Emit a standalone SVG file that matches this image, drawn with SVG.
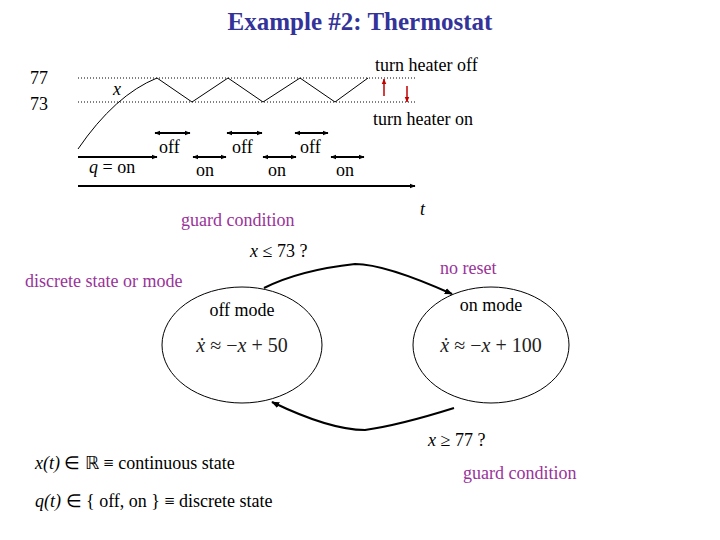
<svg xmlns="http://www.w3.org/2000/svg" width="720" height="540" viewBox="0 0 720 540" font-family="'Liberation Serif','Times New Roman',serif">
<style>
text{font-family:"Liberation Serif","Times New Roman",serif;font-size:18px;fill:#000}
.p{fill:#993399}
.t{fill:#333399;font-weight:bold;font-size:25px}
.i{font-style:italic}
.m{font-size:20px;fill:#222}
.l{stroke:#000;stroke-width:1;fill:none}
.b{stroke:#000;stroke-width:2;fill:none}
.d{stroke:#000;stroke-width:1;stroke-dasharray:1 2;fill:none}
</style>
<defs>
<marker id="a" viewBox="0 0 10 10" refX="9" refY="5" markerWidth="3" markerHeight="3" orient="auto-start-reverse"><path d="M0,1 L10,5 L0,9z" fill="#000"/></marker>
<marker id="A" viewBox="0 0 10 10" refX="9" refY="5" markerWidth="4" markerHeight="4" orient="auto"><path d="M0,1 L10,5 L0,9z" fill="#000"/></marker>
<marker id="r" viewBox="0 0 10 10" refX="9" refY="5" markerWidth="4" markerHeight="4" orient="auto"><path d="M0,1 L10,5 L0,9z" fill="#c00000"/></marker>
</defs>
<rect width="720" height="540" fill="#fff"/>
<text class="t" x="360" y="30" text-anchor="middle">Example #2: Thermostat</text>
<g id="plot">
<text x="30" y="84">77</text><text x="30" y="110">73</text>
<line class="d" x1="78" y1="78" x2="415" y2="78"/>
<line class="d" x1="78" y1="102" x2="415" y2="102"/>
<text class="i" x="113" y="95">x</text>
<path class="l" d="M78,149 Q115,95 157,78 L192,102 L228,78 L263,102 L300,78 L335,102 L368,78"/>
<text x="375" y="71">turn heater off</text>
<text x="373" y="125">turn heater on</text>
<line x1="384" y1="96" x2="384" y2="79" stroke="#c00000" stroke-width="1.5" marker-end="url(#r)"/>
<line x1="407" y1="86" x2="407" y2="102" stroke="#c00000" stroke-width="1.5" marker-end="url(#r)"/>
<g class="b">
<line x1="78" y1="157" x2="157" y2="157" marker-end="url(#a)"/>
<line x1="155" y1="133" x2="190" y2="133" marker-start="url(#a)" marker-end="url(#a)"/>
<line x1="227" y1="133" x2="262" y2="133" marker-start="url(#a)" marker-end="url(#a)"/>
<line x1="295" y1="133" x2="328" y2="133" marker-start="url(#a)" marker-end="url(#a)"/>
<line x1="193" y1="157" x2="226" y2="157" marker-start="url(#a)" marker-end="url(#a)"/>
<line x1="263" y1="157" x2="296" y2="157" marker-start="url(#a)" marker-end="url(#a)"/>
<line x1="331" y1="157" x2="364" y2="157" marker-start="url(#a)" marker-end="url(#a)"/>
<line x1="78" y1="186" x2="415" y2="186" marker-end="url(#a)"/>
</g>
<text x="159" y="153">off</text><text x="232" y="153">off</text><text x="300" y="153">off</text>
<text x="196" y="176">on</text><text x="268" y="176">on</text><text x="336" y="176">on</text>
<text x="89" y="173"><tspan class="i">q</tspan> = on</text>
<text class="i" x="420" y="215">t</text>
</g>
<g id="off">
<ellipse class="l" cx="242" cy="345" rx="80" ry="58"/>
<text x="242" y="316" text-anchor="middle">off mode</text>
<text class="m" x="242" y="352" text-anchor="middle"><tspan class="i">ẋ</tspan> ≈ −<tspan class="i">x</tspan> + 50</text>
</g>
<g id="on">
<ellipse class="l" cx="491" cy="345" rx="78" ry="58"/>
<text x="491" y="311" text-anchor="middle">on mode</text>
<text class="m" x="491" y="352" text-anchor="middle"><tspan class="i">ẋ</tspan> ≈ −<tspan class="i">x</tspan> + 100</text>
</g>
<g id="edges">
<path class="b" d="M264,288 Q300,270 355,264 Q385,264 452,294" marker-end="url(#A)"/>
<path class="b" d="M454,408 Q400,425 365,430 Q330,430 272,402" marker-end="url(#A)"/>
</g>
<text class="p" x="181" y="226">guard condition</text>
<text x="250" y="257"><tspan class="i">x</tspan> ≤ 73 ?</text>
<text class="p" x="25" y="287">discrete state or mode</text>
<text class="p" x="440" y="274">no reset</text>
<text x="428" y="446"><tspan class="i">x</tspan> ≥ 77 ?</text>
<text class="p" x="463" y="479">guard condition</text>
<text x="35" y="469"><tspan class="i">x(t)</tspan> ∈ ℝ ≡ continuous state</text>
<text x="35" y="507"><tspan class="i">q(t)</tspan> ∈ { off, on } ≡ discrete state</text>
</svg>
